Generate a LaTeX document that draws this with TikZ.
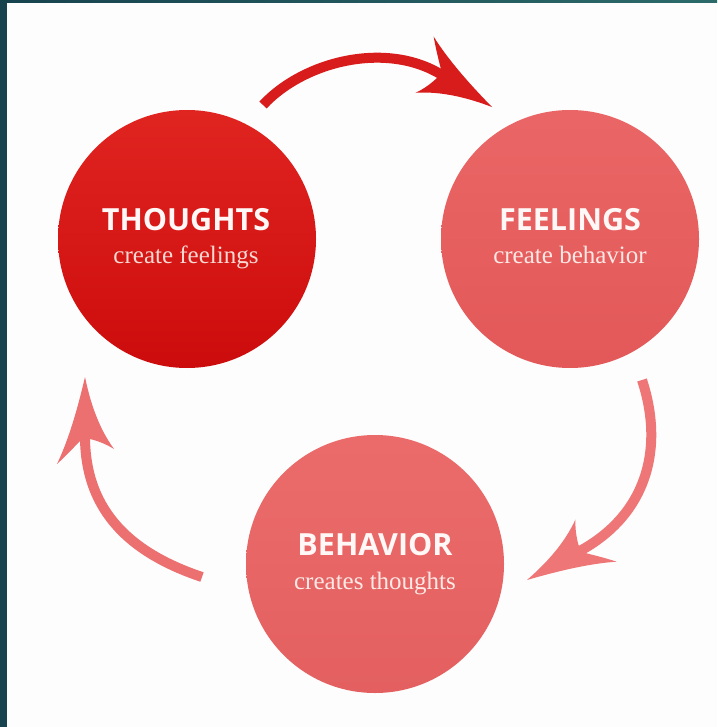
\documentclass[tikz,border=0pt]{standalone}
\usepackage{fontspec}
\setmainfont{Liberation Serif}
\newfontfamily\titlefont{Open Sans}
\definecolor{bgwhite}{HTML}{FDFDFD}
\definecolor{tealA}{HTML}{17434F}
\definecolor{tealB}{HTML}{2C6A6A}
\definecolor{thA}{HTML}{E02420}
\definecolor{thB}{HTML}{CC0C0C}
\definecolor{feA}{HTML}{EA6666}
\definecolor{feB}{HTML}{E35858}
\definecolor{beA}{HTML}{EB6B6B}
\definecolor{beB}{HTML}{E46060}
\definecolor{arTop}{HTML}{D81C1C}
\definecolor{arRight}{HTML}{EE7676}
\definecolor{arLeft}{HTML}{EC7070}
\definecolor{subA}{HTML}{F8D9D3}
\definecolor{subB}{HTML}{FCE9E5}
\definecolor{titcol}{HTML}{FFF8F6}
\newcommand{\swooshhead}[3]{%
  \fill[#3, shift={(#1)}, rotate=#2]
    (0,0) .. controls (-30,-7) and (-62,-16) .. (-87,-28)
    .. controls (-77,-17) and (-68,-9) .. (-64,-5)
    -- (-62,5) .. controls (-64,13) and (-67,21) .. (-72,29)
    .. controls (-50,13) and (-24,5) .. (0,0) -- cycle;}
\begin{document}
\begin{tikzpicture}[x=1pt,y=-1pt,
  bubble/.style={circle, minimum size=258pt, inner sep=0pt, draw=none, shading angle=45},
  titletext/.style={font=\titlefont\bfseries\fontsize{30.5}{30.5}\selectfont, text=titcol, inner sep=0pt, anchor=base},
  subtext/.style={font=\fontsize{25}{25}\selectfont, inner sep=0pt, anchor=base},
  arrowline/.style={line width=10pt, line cap=butt}
]
\fill[bgwhite] (0,0) rectangle (717,727);
\useasboundingbox (0,0) rectangle (717,727);
\shade[left color=tealA, right color=tealB] (0,0) rectangle (717,3);
\fill[tealA] (0,0) rectangle (7,727);

% circles
\node[bubble, top color=thA, bottom color=thB] (th) at (187,239) {};
\node[bubble, top color=feA, bottom color=feB] (fe) at (570,239) {};
\node[bubble, top color=beA, bottom color=beB] (be) at (375,564) {};

% texts
\node[titletext] (thT) at (186,230) {THOUGHTS};
\node[subtext, text=subA] (thS) at (186,263) {create feelings};
\node[titletext] (feT) at (570,230) {FEELINGS};
\node[subtext, text=subB] (feS) at (570,263) {create behavior};
\node[titletext] (beT) at (375,555) {BEHAVIOR};
\node[subtext, text=subB] (beS) at (375,589) {creates thoughts};

% arrows
\coordinate (a1s) at (263,105);
\coordinate (a1e) at (445,77);
\coordinate (a1t) at (492,107);
\draw[arrowline, arTop] (a1s) .. controls (305,60) and (390,40) .. (a1e);
\swooshhead{a1t}{-32.5}{arTop}

\coordinate (a2s) at (642,380);
\coordinate (a2e) at (576,553);
\coordinate (a2t) at (527,580);
\draw[arrowline, arRight] (a2s) .. controls (665,450) and (646,517) .. (a2e);
\swooshhead{a2t}{-150.6}{arRight}

\coordinate (a3s) at (202,577);
\coordinate (a3e) at (85,433);
\coordinate (a3t) at (85,377);
\draw[arrowline, arLeft] (a3s) .. controls (115,548) and (84,497) .. (a3e);
\swooshhead{a3t}{90}{arLeft}
\end{tikzpicture}
\end{document}
